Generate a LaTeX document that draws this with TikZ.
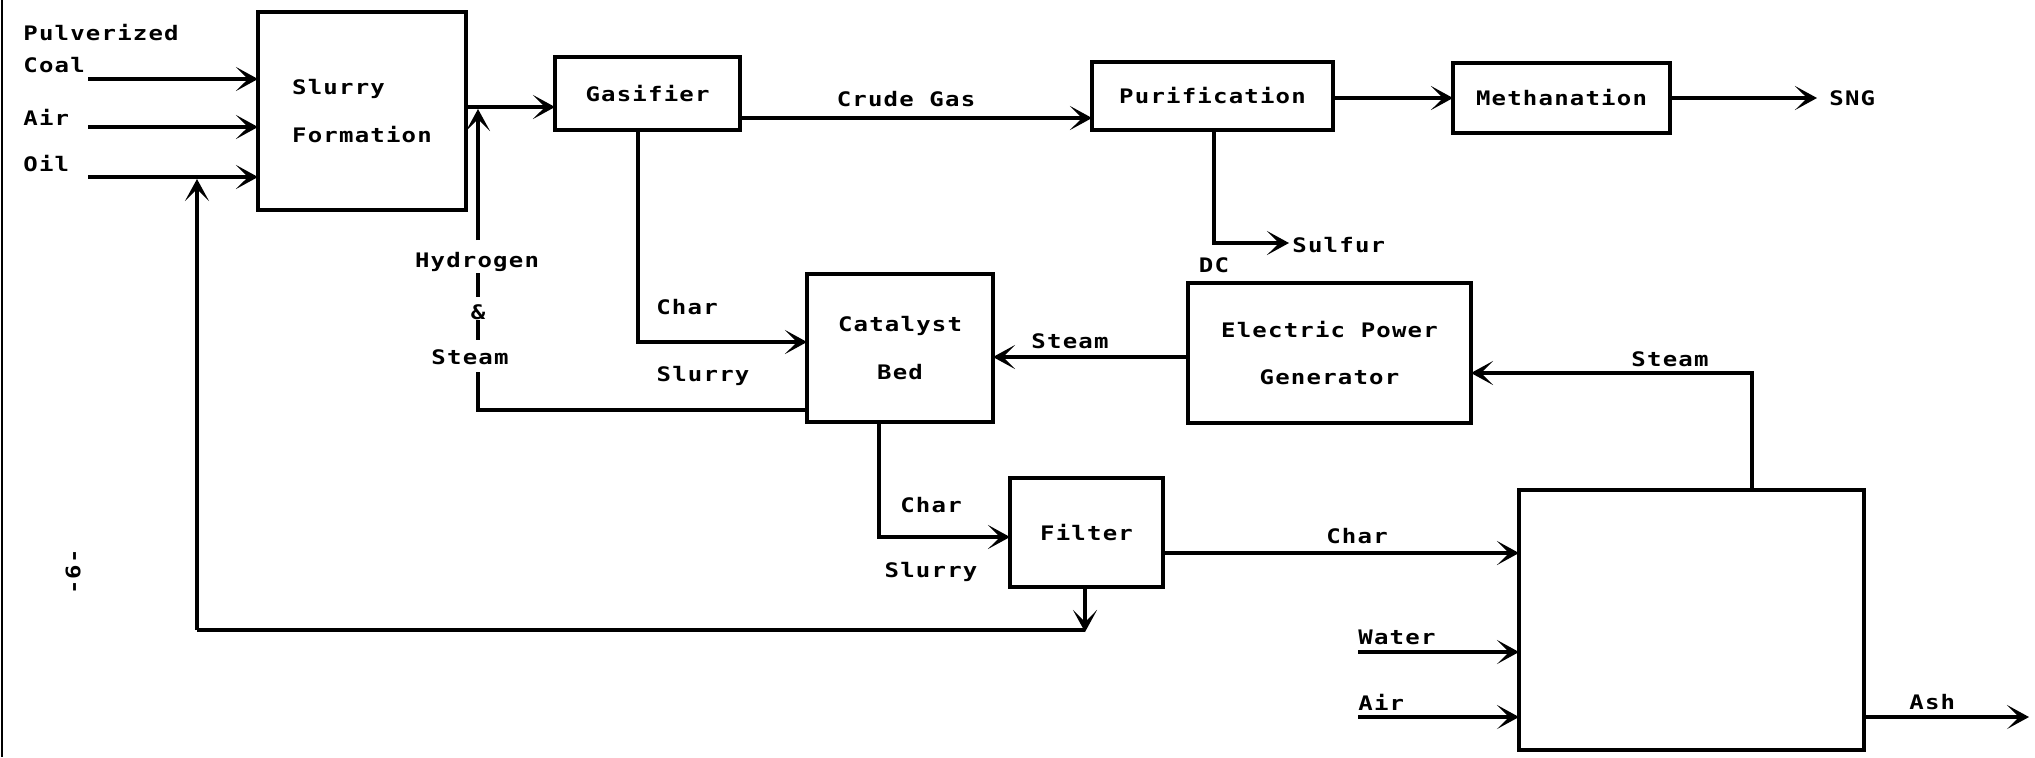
\documentclass[tikz,border=0pt]{standalone}
\usepackage{fontspec}
\setmainfont{DejaVu Sans Mono}[FakeStretch=1.2,LetterSpace=6]
\usetikzlibrary{arrows.meta}
\begin{document}
\begin{tikzpicture}[x=0.5pt,y=-0.5pt,
  box/.style={draw, line width=1.7pt, inner sep=0pt, outer sep=0pt, anchor=north west, align=center, font=\fontsize{10}{24}\selectfont\bfseries},
  lbl/.style={inner sep=0pt, font=\fontsize{10}{12}\selectfont\bfseries},
  line/.style={line width=1.7pt},
  arr/.style={line width=1.7pt, -{Stealth[length=11pt,width=12pt,inset=6pt]}},
]
\useasboundingbox (0,0) rectangle (2035,757);
\fill[white] (0,0) rectangle (2035,757);
\draw[line width=1.2pt] (2,0) -- (2,757);

% boxes
\node[box, align=left, minimum width=104pt, minimum height=99pt] (slurry) at (258,12) {Slurry\\Formation};
\node[box, minimum width=92.5pt, minimum height=36.5pt] (gas) at (555,57) {Gasifier};
\node[box, minimum width=120.5pt, minimum height=34pt] (pur) at (1092,62) {Purification};
\node[box, minimum width=108.5pt, minimum height=35pt] (meth) at (1453,63) {Methanation};
\node[box, minimum width=93pt, minimum height=74pt] (cat) at (807,274) {Catalyst\\Bed};
\node[box, minimum width=141.5pt, minimum height=70pt] (epg) at (1188,283) {Electric Power\\Generator};
\node[box, minimum width=76.5pt, minimum height=54.5pt] (filt) at (1010,478) {Filter};
\node[box, minimum width=172.5pt, minimum height=130pt] (comb) at (1519,490) {};

% inputs to slurry formation
\coordinate (coal0) at (88,79);
\coordinate (air0) at (88,127);
\coordinate (oil0) at (88,177);
\draw[arr] (coal0) -- (coal0 -| slurry.west);
\draw[arr] (air0) -- (air0 -| slurry.west);
\draw[arr] (oil0) -- (oil0 -| slurry.west);
\node[lbl, anchor=west] (tpulv) at (23,33) {Pulverized};
\node[lbl, anchor=west] (tcoal) at (23,65) {Coal};
\node[lbl, anchor=west] (tair) at (23,117) {Air};
\node[lbl, anchor=west] (toil) at (23,164) {Oil};

% slurry -> gasifier
\draw[arr] (slurry.east |- 0,107) -- (gas.west |- 0,107);

% hydrogen & steam return
\coordinate (hs) at (478,410);
\draw[line] (cat.west |- hs) -- (hs) -- (478,372);
\draw[line] (478,320) -- (478,340);
\draw[line] (478,273) -- (478,297);
\draw[arr] (478,240) -- (478,109);
\node[lbl] (thyd) at (477,262) {Hydrogen};
\node[lbl] (tamp) at (478,312) {\&};
\node[lbl] (tst1) at (470,357) {Steam};

% gasifier -> catalyst bed
\draw[arr] (gas.south -| 638,0) |- (cat.west |- 0,342);
\node[lbl] (tchar1) at (687,307) {Char};
\node[lbl] (tslur1) at (703,376) {Slurry};

% gasifier -> purification
\draw[arr] (gas.east |- 0,118) -- (pur.west |- 0,118);
\node[lbl] (tcrude) at (906,99) {Crude Gas};

% purification -> methanation -> SNG
\draw[arr] (pur.east |- 0,98) -- (meth.west |- 0,98);
\coordinate (sng) at (1817,98);
\draw[arr] (meth.east |- sng) -- (sng);
\node[lbl, anchor=west] (tsng) at (1829,98) {SNG};

% purification -> sulfur
\coordinate (sulf) at (1289,243);
\draw[arr] (pur.south -| 1214,0) |- (sulf);
\node[lbl, anchor=west] (tsulf) at (1292,245) {Sulfur};
\node[lbl] (tdc) at (1214,265) {DC};

% combustor steam -> electric power generator
\draw[arr] (comb.north -| 1752,0) |- (epg.east |- 0,373);
\node[lbl] (tst2) at (1670,359) {Steam};

% electric power generator -> catalyst bed
\draw[arr] (epg.west |- 0,357) -- (cat.east |- 0,357);
\node[lbl] (tst3) at (1070,341) {Steam};

% catalyst bed -> filter
\draw[arr] (cat.south -| 879,0) |- (filt.west |- 0,537);
\node[lbl] (tchar2) at (931,505) {Char};
\node[lbl] (tslur2) at (931,572) {Slurry};

% filter -> combustor
\draw[arr] (filt.east |- 0,553) -- (comb.west |- 0,553);
\node[lbl] (tchar3) at (1357,536) {Char};

% filter -> oil return
\coordinate (fb) at (1085,630);
\coordinate (ret) at (197,630);
\draw[arr] (filt.south -| fb) -- ([yshift=-1pt]fb);
\draw[line] (fb) -- (ret);
\draw[arr] (ret) -- ([yshift=-1pt]oil0 -| ret);

% water, air, ash
\coordinate (w0) at (1358,652);
\coordinate (a0) at (1358,717);
\coordinate (ash) at (2029,717);
\draw[arr] (w0) -- (w0 -| comb.west);
\draw[arr] (a0) -- (a0 -| comb.west);
\draw[arr] (comb.east |- ash) -- (ash);
\node[lbl, anchor=west] (twat) at (1358,637) {Water};
\node[lbl, anchor=west] (tair2) at (1358,702) {Air};
\node[lbl, anchor=west] (tash) at (1909,702) {Ash};

% page number
\node[lbl, rotate=90] (pg) at (73,572) {-6-};
\end{tikzpicture}
\end{document}
